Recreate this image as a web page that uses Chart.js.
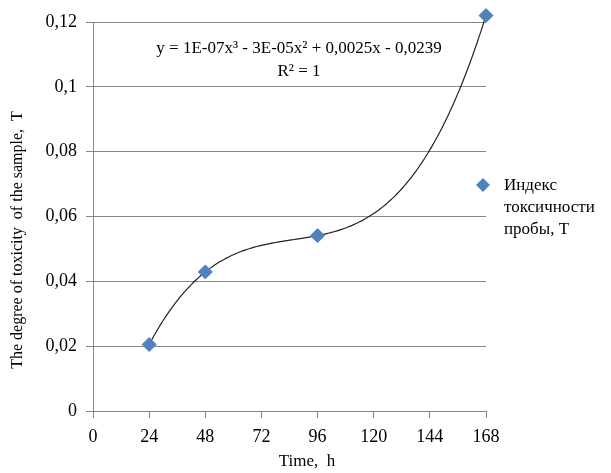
<!DOCTYPE html>
<html>
<head>
<meta charset="utf-8">
<script src="https://cdn.jsdelivr.net/npm/chart.js@4/dist/chart.umd.min.js"></script>
<style>
  html, body { margin: 0; padding: 0; background: #fff; }
  #wrap { width: 611px; height: 473px; }
</style>
</head>
<body>
<div id="wrap"><canvas id="toxChart" width="611" height="473"></canvas></div>
<script>
const hours = [24, 48, 96, 168];
const toxicity = [0.0205, 0.0429, 0.0541, 0.122];
const xTicks = [0, 24, 48, 72, 96, 120, 144, 168];
const yTicks = [0, 0.02, 0.04, 0.06, 0.08, 0.1, 0.12];
const legendLines = ["Индекс", "токсичности", "пробы, T"];
const equationLines = ["y = 1E-07x³ - 3E-05x² + 0,0025x - 0,0239", "R² = 1"];
const xTitle = "Time,  h";
const yTitle = "The degree of toxicity  of the sample,  T";

const FONT = "'Liberation Serif', 'Times New Roman', serif";
const grey = "#868686";

// cubic trendline through the points (R² = 1), like the spreadsheet one
function lagrange(x) {
  let s = 0;
  for (let i = 0; i < hours.length; i++) {
    let t = toxicity[i];
    for (let j = 0; j < hours.length; j++) {
      if (j !== i) t *= (x - hours[j]) / (hours[i] - hours[j]);
    }
    s += t;
  }
  return s;
}
const trend = [];
for (let x = hours[0]; x <= hours[hours.length - 1]; x += 1) {
  trend.push({ x: x, y: lagrange(x) });
}

const fmt = (v) => String(Math.round(v * 100) / 100).replace(".", ",");

const overlay = {
  id: "overlay",
  afterDraw(chart) {
    const c = chart.ctx;
    c.save();
    c.fillStyle = "#000";
    c.font = "17px " + FONT;
    c.textAlign = "center";
    c.textBaseline = "middle";
    c.fillText(equationLines[0], 299, 49);
    c.fillText(equationLines[1], 299, 72);

    // axis titles
    c.fillText(xTitle, 307, 462);
    c.save();
    c.translate(18, 240);
    c.rotate(-Math.PI / 2);
    c.font = "16px " + FONT;
    c.fillText(yTitle, 0, 0);
    c.restore();

    // legend
    c.fillStyle = "#4F81BD";
    c.beginPath();
    c.moveTo(483, 178);
    c.lineTo(490, 185);
    c.lineTo(483, 192);
    c.lineTo(476, 185);
    c.closePath();
    c.fill();
    c.fillStyle = "#000";
    c.textAlign = "left";
    legendLines.forEach((t, i) => c.fillText(t, 504, 186 + i * 22));
    c.restore();
  },
};

new Chart(document.getElementById("toxChart"), {
  type: "scatter",
  data: {
    datasets: [
      {
        label: "trend",
        data: trend,
        showLine: true,
        borderColor: "#222",
        borderWidth: 1.2,
        pointRadius: 0,
        clip: false,
        order: 2,
      },
      {
        label: legendLines.join(" "),
        data: hours.map((h, i) => ({ x: h, y: toxicity[i] })),
        pointStyle: "rectRot",
        pointRadius: 7,
        backgroundColor: "#4F81BD",
        borderColor: "#4F81BD",
        clip: false,
        order: 1,
      },
    ],
  },
  options: {
    responsive: false,
    animation: false,
    layout: { padding: { top: 22, right: 125, left: 8, bottom: 4 } },
    plugins: { legend: { display: false }, tooltip: { enabled: false } },
    scales: {
      x: {
        type: "linear",
        min: 0,
        max: 168,
        afterBuildTicks: (s) => { s.ticks = xTicks.map((v) => ({ value: v })); },
        afterFit: (s) => { s.height = 58; },
        grid: { drawOnChartArea: false, color: grey, tickLength: 7, tickColor: grey },
        border: { color: grey },
        ticks: { color: "#000", font: { family: FONT, size: 18 }, padding: 8, maxRotation: 0 },
      },
      y: {
        min: 0,
        max: 0.12,
        afterBuildTicks: (s) => { s.ticks = yTicks.map((v) => ({ value: v })); },
        afterFit: (s) => { s.width = 85; },
        grid: { color: grey, tickLength: 7, tickColor: grey },
        border: { color: grey },
        ticks: { color: "#000", font: { family: FONT, size: 18 }, padding: 9, callback: (v) => fmt(v) },
      },
    },
  },
  plugins: [overlay],
});
</script>
</body>
</html>
